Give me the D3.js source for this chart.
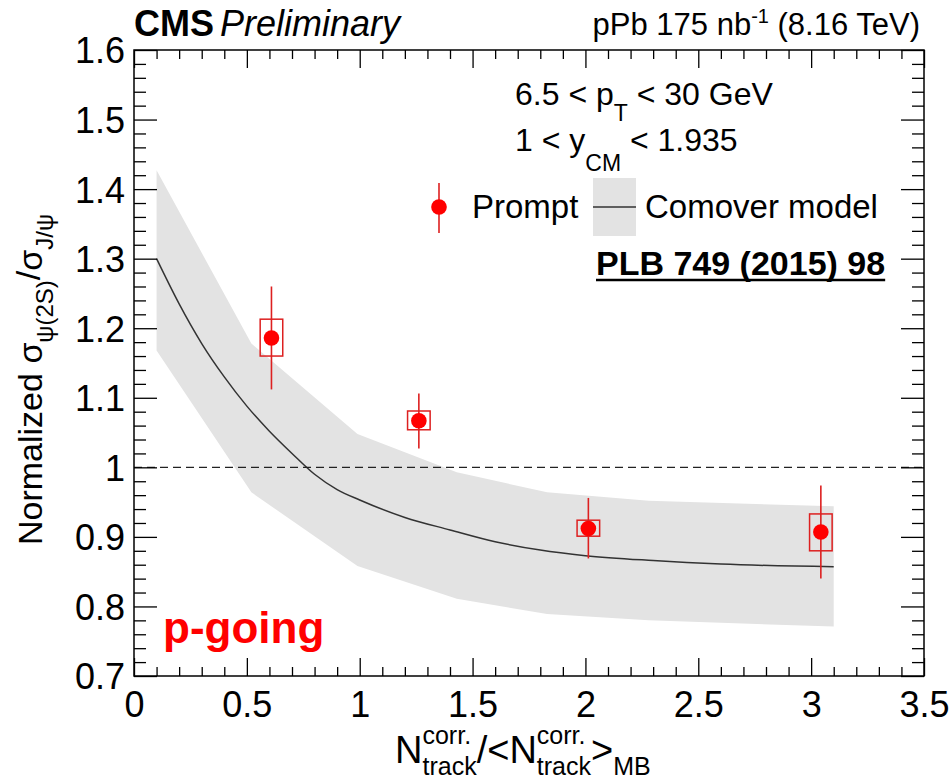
<!DOCTYPE html>
<html><head><meta charset="utf-8">
<script src="https://cdn.jsdelivr.net/npm/d3@7"></script>
<style>
body{margin:0;background:#fff}
svg{font-family:"Liberation Sans",Arial,Helvetica,sans-serif}
</style></head>
<body><svg id="c" width="950" height="784"></svg>
<script>
// ---------- data ----------
const xTicks = [0, 0.5, 1, 1.5, 2, 2.5, 3, 3.5];
const xTickLabels = ["0", "0.5", "1", "1.5", "2", "2.5", "3", "3.5"];
const yTicks = [0.7, 0.8, 0.9, 1.0, 1.1, 1.2, 1.3, 1.4, 1.5, 1.6];
const yTickLabels = ["0.7", "0.8", "0.9", "1", "1.1", "1.2", "1.3", "1.4", "1.5", "1.6"];

// Prompt psi(2S)/J/psi double ratio
const pointX = [0.609, 1.262, 2.013, 3.043];
const pointY = [1.186, 1.067, 0.912, 0.907];
const statLow = [1.112, 1.027, 0.869, 0.840];
const statHigh = [1.260, 1.106, 0.956, 0.974];
const sysLow = [1.160, 1.054, 0.901, 0.880];
const sysHigh = [1.213, 1.081, 0.924, 0.933];
const sysHalfWidth = [0.05, 0.05, 0.05, 0.05];

// Comover model band and central curve
const bandX = [0.1, 0.52, 0.99, 1.43, 1.83, 2.28, 3.1];
const bandHigh = [1.427, 1.178, 1.048, 0.993, 0.964, 0.952, 0.944];
const bandLow = [1.168, 0.964, 0.858, 0.811, 0.789, 0.780, 0.771];
const modelX = [0.1, 0.2, 0.3, 0.4, 0.5, 0.6, 0.7, 0.8, 0.9, 1.0, 1.2, 1.4, 1.6, 1.8, 2.0, 2.3, 2.6, 3.1];
const modelY = [1.300, 1.235, 1.178, 1.130, 1.088, 1.052, 1.020, 0.990, 0.968, 0.953, 0.928, 0.910, 0.893, 0.881, 0.873, 0.866, 0.861, 0.857];

const referenceLine = 1.0;

// ---------- drawing ----------
const svg = d3.select("#c");
const W = 950, H = 784;
const x = d3.scaleLinear().domain([0, 3.5]).range([134, 924]);
const y = d3.scaleLinear().domain([0.7, 1.6]).range([676, 50]);
const FONT = '"Liberation Sans",Arial,Helvetica,sans-serif';

svg.append("rect").attr("width", W).attr("height", H).attr("fill", "#fff");

// band
const band = bandX.map((d, i) => ({x: d, lo: bandLow[i], hi: bandHigh[i]}));
svg.append("path").datum(band)
  .attr("d", d3.area().x(d => x(d.x)).y0(d => y(d.lo)).y1(d => y(d.hi)))
  .attr("fill", "#e3e3e3");

// model curve
const model = modelX.map((d, i) => ({x: d, y: modelY[i]}));
svg.append("path").datum(model)
  .attr("d", d3.line().x(d => x(d.x)).y(d => y(d.y)).curve(d3.curveMonotoneX))
  .attr("fill", "none").attr("stroke", "#333").attr("stroke-width", 1.5);

// reference dashed line
svg.append("line")
  .attr("x1", x(0)).attr("x2", x(3.5)).attr("y1", y(referenceLine)).attr("y2", y(referenceLine))
  .attr("stroke", "#222").attr("stroke-width", 1.3).attr("stroke-dasharray", "8,5");

// axes (ROOT-style, ticks inside, mirrored)
function minorVals(lo, hi, step, majors) {
  const out = [];
  for (let v = lo; v <= hi + 1e-9; v += step) {
    const r = Math.round(v * 1000) / 1000;
    if (!majors.some(m => Math.abs(m - r) < 1e-6)) out.push(r);
  }
  return out;
}
const xMinor = minorVals(0, 3.5, 0.1, xTicks);
const yMinor = minorVals(0.7, 1.6, 0.02, yTicks);

function styleAxis(g) {
  g.select(".domain").remove();
  g.selectAll(".tick line").attr("stroke", "#000").attr("stroke-width", 1.3);
}
// bottom
svg.append("g").attr("transform", `translate(0,${y(0.7)})`)
  .call(d3.axisBottom(x).tickValues(xTicks).tickSize(-18).tickPadding(8)
        .tickFormat((d, i) => xTickLabels[i]))
  .call(styleAxis)
  .call(g => g.selectAll("text").attr("fill", "#000").style("font-size", "36px")
        .style("font-family", FONT).attr("y", 41).attr("dy", null));
svg.append("g").attr("transform", `translate(0,${y(0.7)})`)
  .call(d3.axisBottom(x).tickValues(xMinor).tickSize(-9).tickFormat(""))
  .call(styleAxis);
// top
svg.append("g").attr("transform", `translate(0,${y(1.6)})`)
  .call(d3.axisTop(x).tickValues(xTicks).tickSize(-18).tickFormat(""))
  .call(styleAxis);
svg.append("g").attr("transform", `translate(0,${y(1.6)})`)
  .call(d3.axisTop(x).tickValues(xMinor).tickSize(-9).tickFormat(""))
  .call(styleAxis);
// left
svg.append("g").attr("transform", `translate(${x(0)},0)`)
  .call(d3.axisLeft(y).tickValues(yTicks).tickSize(-23).tickPadding(9)
        .tickFormat((d, i) => yTickLabels[i]))
  .call(styleAxis)
  .call(g => g.selectAll("text").attr("fill", "#000").style("font-size", "36px")
        .style("font-family", FONT).attr("dy", "0.36em"));
svg.append("g").attr("transform", `translate(${x(0)},0)`)
  .call(d3.axisLeft(y).tickValues(yMinor).tickSize(-12).tickFormat(""))
  .call(styleAxis);
// right
svg.append("g").attr("transform", `translate(${x(3.5)},0)`)
  .call(d3.axisRight(y).tickValues(yTicks).tickSize(-23).tickFormat(""))
  .call(styleAxis);
svg.append("g").attr("transform", `translate(${x(3.5)},0)`)
  .call(d3.axisRight(y).tickValues(yMinor).tickSize(-12).tickFormat(""))
  .call(styleAxis);

// frame
svg.append("rect").attr("x", x(0)).attr("y", y(1.6))
  .attr("width", x(3.5) - x(0)).attr("height", y(0.7) - y(1.6))
  .attr("fill", "none").attr("stroke", "#000").attr("stroke-width", 1.5);

// data points
const pts = pointX.map((d, i) => ({x: d, y: pointY[i], sl: statLow[i], sh: statHigh[i],
  yl: sysLow[i], yh: sysHigh[i], hw: sysHalfWidth[i]}));
const RED_LINE = "#dd2020";
const gp = svg.append("g");
gp.selectAll("rect.sys").data(pts).join("rect").attr("class", "sys")
  .attr("x", d => x(d.x - d.hw)).attr("width", d => x(d.x + d.hw) - x(d.x - d.hw))
  .attr("y", d => y(d.yh)).attr("height", d => y(d.yl) - y(d.yh))
  .attr("fill", "none").attr("stroke", RED_LINE).attr("stroke-width", 1.5);
gp.selectAll("line.stat").data(pts).join("line").attr("class", "stat")
  .attr("x1", d => x(d.x)).attr("x2", d => x(d.x))
  .attr("y1", d => y(d.sh)).attr("y2", d => y(d.sl))
  .attr("stroke", RED_LINE).attr("stroke-width", 1.6);
gp.selectAll("circle").data(pts).join("circle")
  .attr("cx", d => x(d.x)).attr("cy", d => y(d.y)).attr("r", 7.8).attr("fill", "#ff0000");

// ---------- rich text helper ----------
function rich(g, x0, y0, segs, color) {
  let cx = x0;
  segs.forEach(s => {
    if (s.sup !== undefined) {
      const a = g.append("text").attr("x", cx).attr("y", y0 + s.supDy)
        .style("font-size", s.size + "px").attr("fill", color || "#000").text(s.sup);
      const b = g.append("text").attr("x", cx).attr("y", y0 + s.subDy)
        .style("font-size", s.size + "px").attr("fill", color || "#000").text(s.sub);
      cx += Math.max(a.node().getComputedTextLength(), b.node().getComputedTextLength());
    } else {
      const t = g.append("text").attr("x", cx).attr("y", y0 + (s.dy || 0))
        .style("font-size", s.size + "px").attr("fill", color || "#000")
        .style("font-weight", s.weight || "normal").style("font-style", s.style || "normal")
        .attr("xml:space", "preserve").style("white-space", "pre").text(s.t);
      cx += t.node().getComputedTextLength() + (s.gap || 0);
    }
  });
  return cx - x0;
}

// CMS Preliminary
rich(svg.append("g"), 134, 36, [
  {t: "CMS", size: 36, weight: "bold", gap: 6},
  {t: "Preliminary", size: 36, style: "italic"}
]);

// luminosity label (right aligned)
{
  const g = svg.append("g");
  const w = rich(g, 0, 35, [
    {t: "pPb 175 nb", size: 31},
    {t: "-1", size: 20, dy: -12},
    {t: " (8.16 TeV)", size: 31}
  ]);
  g.attr("transform", `translate(${920 - w},0)`);
}

// kinematic labels
rich(svg.append("g"), 515, 105, [
  {t: "6.5 < p", size: 32},
  {t: "T", size: 23, dy: 16},
  {t: " < 30 GeV", size: 32}
]);
rich(svg.append("g"), 515, 151, [
  {t: "1 < y", size: 32},
  {t: "CM", size: 23, dy: 20},
  {t: " < 1.935", size: 32}
]);

// legend
svg.append("line").attr("x1", 439).attr("x2", 439).attr("y1", 183).attr("y2", 233)
  .attr("stroke", RED_LINE).attr("stroke-width", 1.6);
svg.append("circle").attr("cx", 439).attr("cy", 207).attr("r", 7.8).attr("fill", "#ff0000");
svg.append("text").attr("x", 472).attr("y", 218).style("font-size", "33px").text("Prompt");
svg.append("rect").attr("x", 593).attr("y", 178).attr("width", 43).attr("height", 58).attr("fill", "#e3e3e3");
svg.append("line").attr("x1", 593).attr("x2", 636).attr("y1", 207).attr("y2", 207)
  .attr("stroke", "#333").attr("stroke-width", 1.5);
svg.append("text").attr("x", 645).attr("y", 218).style("font-size", "33px").text("Comover model");

// reference
{
  const t = svg.append("text").attr("x", 596).attr("y", 275).style("font-size", "34px")
    .style("font-weight", "bold").text("PLB 749 (2015) 98");
  const w = t.node().getComputedTextLength();
  svg.append("line").attr("x1", 596).attr("x2", 596 + w).attr("y1", 280).attr("y2", 280)
    .attr("stroke", "#000").attr("stroke-width", 2.5);
}

// p-going
svg.append("text").attr("x", 163).attr("y", 643).style("font-size", "44px")
  .style("font-weight", "bold").attr("fill", "#ff0000").text("p-going");

// x-axis title
{
  const g = svg.append("g");
  rich(g, 0, 763, [
    {t: "N", size: 38},
    {sup: "corr.", sub: "track", size: 25, supDy: -19, subDy: 12},
    {t: "/<N", size: 38},
    {sup: "corr.", sub: "track", size: 25, supDy: -19, subDy: 12},
    {t: ">", size: 38},
    {t: "MB", size: 25, dy: 12}
  ]);
  g.attr("transform", `translate(${395},0)`);
}

// y-axis title
{
  const g = svg.append("g").attr("transform", "translate(42,545) rotate(-90)");
  rich(g, 0, 0, [
    {t: "Normalized ", size: 34},
    {t: "σ", size: 34},
    {t: "ψ(2S)", size: 24, dy: 11},
    {t: "/", size: 34, dy: -2},
    {t: "σ", size: 34},
    {t: "J/ψ", size: 24, dy: 11}
  ]);
}
</script>
</body></html>
